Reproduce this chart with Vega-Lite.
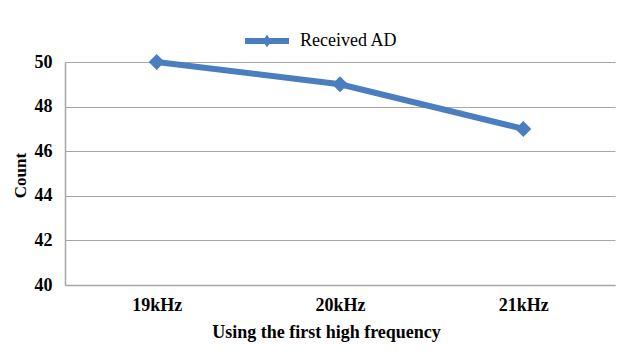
{
  "$schema": "https://vega.github.io/schema/vega-lite/v6.json",
  "width": 550,
  "height": 223,
  "autosize": {"type": "none"},
  "padding": {"left": 65, "top": 62, "right": 12, "bottom": 75},
  "background": "white",
  "data": {
    "values": [
      {"freq": "19kHz", "count": 50, "series": "Received AD"},
      {"freq": "20kHz", "count": 49, "series": "Received AD"},
      {"freq": "21kHz", "count": 47, "series": "Received AD"}
    ]
  },
  "config": {
    "view": {"stroke": null},
    "font": "Liberation Serif"
  },
  "encoding": {
    "x": {
      "field": "freq",
      "type": "nominal",
      "sort": null,
      "scale": {"paddingInner": 0, "paddingOuter": 0},
      "axis": {
        "title": "Using the first high frequency",
        "labelAngle": 0,
        "ticks": false,
        "grid": false,
        "domainColor": "#A6A6A6",
        "domainWidth": 1.5,
        "labelFont": "Liberation Serif",
        "labelFontSize": 18,
        "labelFontWeight": "bold",
        "labelColor": "black",
        "labelPadding": 11,
        "titleFont": "Liberation Serif",
        "titleFontSize": 18,
        "titleFontWeight": "bold",
        "titleColor": "black",
        "titleX": 261,
        "titleY": 47,
        "titleAlign": "center",
        "titleBaseline": "middle"
      }
    },
    "y": {
      "field": "count",
      "type": "quantitative",
      "scale": {"domain": [40, 50], "nice": false, "zero": false},
      "axis": {
        "title": "Count",
        "values": [40, 42, 44, 46, 48, 50],
        "ticks": false,
        "grid": true,
        "gridColor": "#A6A6A6",
        "gridWidth": 1,
        "domainColor": "#A6A6A6",
        "domainWidth": 1.5,
        "labelFont": "Liberation Serif",
        "labelFontSize": 18,
        "labelFontWeight": "bold",
        "labelColor": "black",
        "labelPadding": 13,
        "titleFont": "Liberation Serif",
        "titleFontSize": 17,
        "titleFontWeight": "bold",
        "titleColor": "black",
        "titleAngle": -90,
        "titleX": -45,
        "titleY": 113,
        "titleAlign": "center",
        "titleBaseline": "middle"
      }
    }
  },
  "layer": [
    {
      "mark": {"type": "line", "color": "#4A7EBF", "strokeWidth": 6}
    },
    {
      "mark": {"type": "point", "shape": "diamond", "filled": true, "size": 256, "opacity": 1},
      "encoding": {
        "color": {
          "field": "series",
          "type": "nominal",
          "scale": {"range": ["#4A7EBF"]},
          "legend": {
            "title": null,
            "orient": "none",
            "legendX": 180,
            "legendY": -43,
            "padding": 0,
            "symbolType": "M-1,-0.14L1,-0.14L1,0.14L-1,0.14Z M-0.2,0L0,-0.28L0.2,0L0,0.28Z",
            "symbolSize": 1936,
            "symbolStrokeWidth": 0,
            "symbolOpacity": 1,
            "labelFont": "Liberation Serif",
            "labelFontSize": 18,
            "labelFontWeight": "normal",
            "labelColor": "black",
            "labelOffset": 11
          }
        }
      }
    }
  ]
}
